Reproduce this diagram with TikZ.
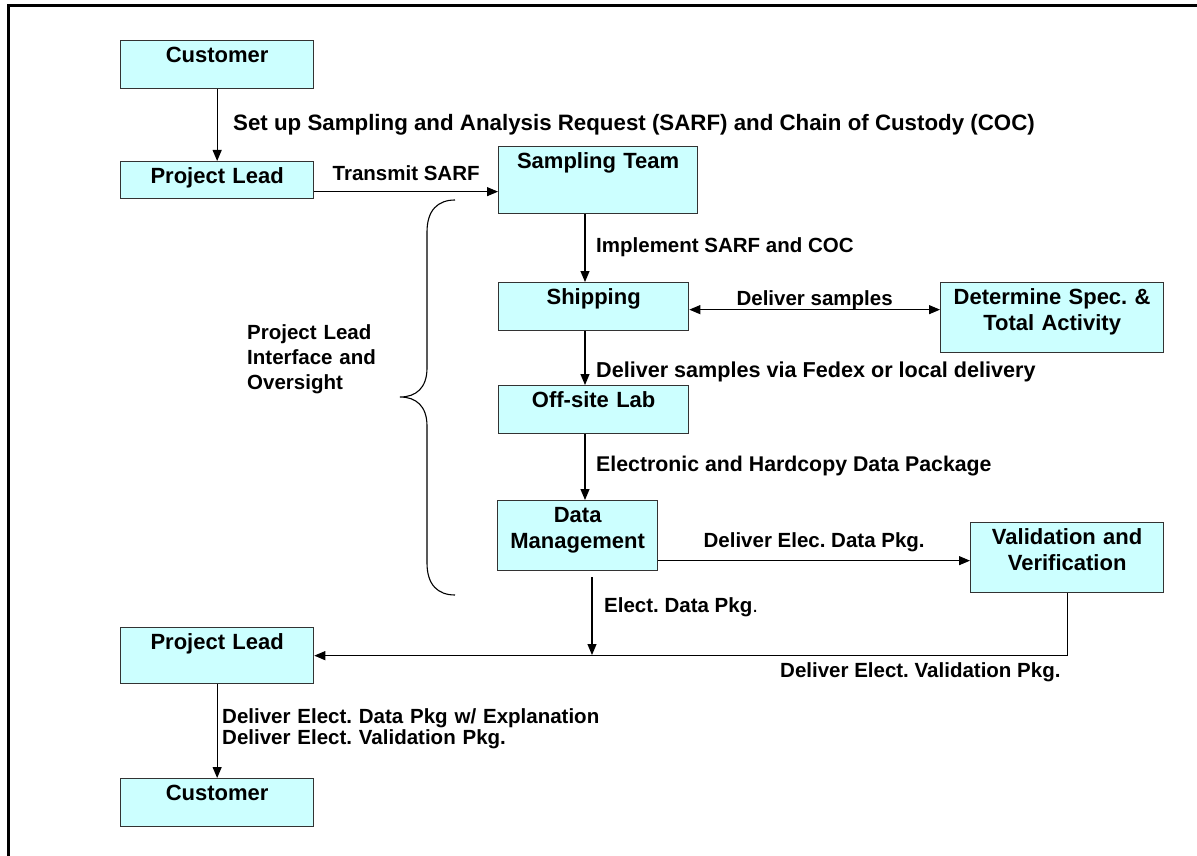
\documentclass[tikz,border=0pt]{standalone}
\usepackage{fontspec}
\setmainfont{Liberation Sans}
\usetikzlibrary{arrows.meta}
\definecolor{boxfill}{HTML}{CCFFFF}
\definecolor{boxedge}{HTML}{333333}
\frenchspacing
\tikzset{
    >={Triangle[length=11pt, width=9pt]},
    stage/.style={draw=boxedge, fill=boxfill, line width=1.3pt, inner sep=0pt, anchor=north west,
        align=center, text height=22pt, font=\fontsize{22}{26}\selectfont\bfseries},
    note/.style={inner sep=0pt, anchor=base west, align=left, font=\fontsize{#1}{21}\selectfont\bfseries},
    note/.default=20.5,
    flow/.style={line width=1.1pt, ->},
}
\begin{document}
\begin{tikzpicture}[x=1pt, y=-1pt]

            \useasboundingbox (0,0) rectangle (1197,856);
            \draw[line width=3pt] (8,856) -- (8,6) -- (1197,6);

            \node[stage, text width=193pt, text depth=26pt] (cust) at (120,40) {Customer};
            \node[stage, text width=193pt, text depth=15pt] (lead) at (120,161) {Project Lead};
            \node[stage, text width=199pt, text depth=45pt] (team) at (498,146) {Sampling Team};
            \node[stage, text width=190pt, text depth=26pt] (ship) at (498,282) {Shipping};
            \node[stage, text width=223pt, text depth=48pt] (spec) at (940,282) {Determine Spec. \&\\Total Activity};
            \node[stage, text width=190pt, text depth=26pt] (lab) at (498,385) {Off-site Lab};
            \node[stage, text width=160pt, text depth=48pt] (data) at (497,500) {Data\\Management};
            \node[stage, text width=193pt, text depth=48pt] (valid) at (970,522) {Validation and\\Verification};
            \node[stage, text width=193pt, text depth=34pt] (lead2) at (120,627) {Project Lead};
            \node[stage, text width=193pt, text depth=26pt] (cust2) at (120,778) {Customer};

            \coordinate (spine) at (585,0);
            \coordinate (join) at (592,655);

            \draw[flow] (cust) -- (lead);
            \draw[flow] ([yshift=-11.5pt]lead.east) -- ([yshift=-11.5pt]lead.east -| team.west)
                node[note, midway, anchor=base, yshift=11pt] (sarf) {Transmit SARF};
            \draw[flow] (team.south -| spine) -- (ship.north -| spine);
            \draw[<->, line width=1.1pt] ([yshift=-3pt]ship.east) -- ([yshift=-3pt]ship.east -| spec.west)
                node[note, midway, anchor=base, yshift=4pt] (deliver) {Deliver samples};
            \draw[flow] (ship.south -| spine) -- (lab.north -| spine);
            \draw[flow] (lab.south -| spine) -- (data.north -| spine);
            \draw[flow] ([yshift=-25pt]data.east) -- ([yshift=-25pt]data.east -| valid.west)
                node[note, midway, anchor=base, yshift=13pt] (elecpkg) {Deliver Elec. Data Pkg.};
            \draw[flow, shorten <=6pt] (data.south -| join) -- (join);
            \draw[flow] (valid.south) |- (lead2.east);
            \draw[flow] (lead2) -- (cust2);

            \node[note=22.3] (setup) at (233,131) {Set up Sampling and Analysis Request (SARF) and Chain of Custody (COC)};
            \node[note] (impl) at (596,252) {Implement SARF and COC};
            \node[note=21.6] (fedex) at (596,377) {Deliver samples via Fedex or local delivery};
            \node[note=21.3] (hard) at (596,471) {Electronic and Hardcopy Data Package};
            \node[note] (elect) at (604,612) {Elect. Data Pkg{\mdseries.}};
            \node[note] (valpkg) at (780,677) {Deliver Elect. Validation Pkg.};
            \node[note, text width=420pt] (explain) at (222,723) {Deliver Elect. Data Pkg w/ Explanation\\Deliver Elect. Validation Pkg.};
            \node[note, text width=170pt, font=\fontsize{20.5}{25}\selectfont\bfseries] (oversight) at (247,339) {Project Lead\\Interface and\\Oversight};

            \draw[line width=1.1pt] (455,200) .. controls (438,200) and (427,210) .. (427,232) -- (427,368)
                .. controls (427,388) and (416,397) .. (400,397) .. controls (416,397) and (427,406) .. (427,426)
                -- (427,563) .. controls (427,585) and (438,595) .. (455,595);

        \end{tikzpicture}
\end{document}
